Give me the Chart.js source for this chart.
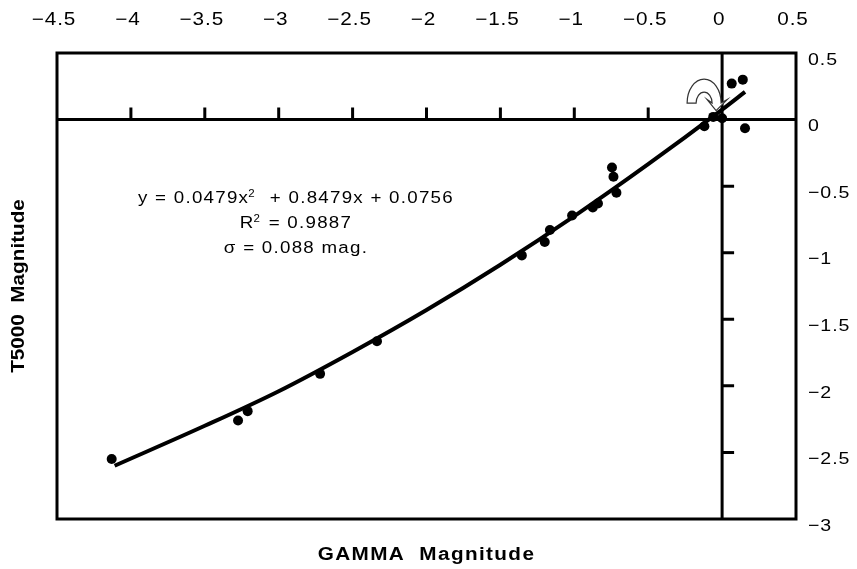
<!DOCTYPE html>
<html><head><meta charset="utf-8">
<script src="https://cdn.jsdelivr.net/npm/chart.js@4.4.1/dist/chart.umd.min.js"></script>
<style>html,body{margin:0;padding:0;background:#fff;}canvas{display:block;}</style>
</head><body>
<canvas id="c" width="857" height="569"></canvas>
<script>
// Observed stars: GAMMA magnitude (x) vs T5000 magnitude (y)
const gammaMag = [-4.13, -3.275, -3.21, -2.72, -2.335, -1.355, -1.2, -1.165, -1.015, -0.875, -0.84, -0.745, -0.735, -0.715, -0.12, -0.06, 0.0, 0.065, 0.14, 0.155];
const t5000Mag = [-2.55, -2.26, -2.19, -1.91, -1.665, -1.02, -0.92, -0.83, -0.72, -0.66, -0.63, -0.36, -0.43, -0.55, -0.05, 0.02, 0.01, 0.27, 0.30, -0.065];
// Fitted trend curve
const fitX = [-4.11, -3.5, -3.0, -2.5, -2.0, -1.5, -1.0, -0.5, 0.0, 0.155];
const fitY = [-2.60, -2.30, -2.04, -1.745, -1.43, -1.09, -0.725, -0.335, 0.075, 0.208];
// Tick labels
const xTickLabels = ['\u22124.5','\u22124','\u22123.5','\u22123','\u22122.5','\u22122','\u22121.5','\u22121','\u22120.5','0','0.5'];
const yTickLabels = ['\u22123','\u22122.5','\u22122','\u22121.5','\u22121','\u22120.5','0','0.5'];
const xTitle = 'GAMMA  Magnitude';
const yTitle = 'T5000  Magnitude';
const eqParts = ['y = 0.0479x', '2', '  + 0.8479x + 0.0756'];
const r2Parts = ['R', '2', ' = 0.9887'];
const sigmaText = '\u03C3 = 0.088 mag.';

const FONT = "'Liberation Sans', Arial, Helvetica, sans-serif";
const SX = 1.15; // the source lettering is slightly wide
(function () {
  const P = CanvasRenderingContext2D.prototype;
  const orig = P.fillText;
  P.fillText = function (t, x, y, mw) {
    this.save();
    this.translate(x, y);
    this.scale(SX, 1);
    if (mw === undefined) orig.call(this, t, 0, 0); else orig.call(this, t, 0, 0, mw / SX);
    this.restore();
  };
})();
Chart.defaults.color = '#000';
Chart.defaults.font.family = FONT;

const decor = {
  id: 'decor',
  beforeDraw(chart) { chart.ctx.letterSpacing = '0.8px'; },
  beforeDatasetsDraw(chart) {
    const {ctx, chartArea: a, scales: {x, y}} = chart;
    const x0 = x.getPixelForValue(0), y0 = y.getPixelForValue(0);
    ctx.save();
    ctx.strokeStyle = '#000';
    ctx.lineWidth = 3;
    ctx.lineCap = 'butt';
    ctx.beginPath();
    ctx.moveTo(a.left, y0); ctx.lineTo(a.right, y0);
    ctx.moveTo(x0, a.top); ctx.lineTo(x0, a.bottom);
    ctx.stroke();
    ctx.beginPath();
    x.ticks.forEach(t => {
      if (t.value < -0.01 && t.value > x.min + 0.01) {
        const px = x.getPixelForValue(t.value);
        ctx.moveTo(px, y0); ctx.lineTo(px, y0 - 12);
      }
    });
    y.ticks.forEach(t => {
      if (t.value < -0.01 && t.value > y.min + 0.01) {
        const py = y.getPixelForValue(t.value);
        ctx.moveTo(x0, py); ctx.lineTo(x0 + 12, py);
      }
    });
    ctx.stroke();
    // curved arrow pointing at the origin
    const cx = x0 - 18, cy = y0 - 16.5;
    ctx.beginPath();
    ctx.moveTo(cx - 17, cy);
    ctx.ellipse(cx, cy, 17, 24, 0, Math.PI, 2 * Math.PI);
    ctx.lineTo(x0 + 5, y0 - 20);
    ctx.lineTo(x0 - 6, y0 - 9);
    ctx.lineTo(x0 - 15, y0 - 20);
    ctx.lineTo(cx + 8, cy);
    ctx.ellipse(cx, cy, 8, 11, 0, 0, -Math.PI, true);
    ctx.closePath();
    ctx.fillStyle = '#fff';
    ctx.fill();
    ctx.lineWidth = 1.2;
    ctx.strokeStyle = '#333';
    ctx.stroke();
    ctx.restore();
  },
  afterDraw(chart) {
    const {ctx, chartArea: a} = chart;
    ctx.save();
    ctx.strokeStyle = '#000';
    ctx.lineWidth = 3;
    ctx.strokeRect(a.left, a.top, a.right - a.left, a.bottom - a.top);
    ctx.fillStyle = '#000';
    // axis titles
    ctx.font = 'bold 18px ' + FONT;
    ctx.letterSpacing = '1.2px';
    ctx.textAlign = 'center';
    ctx.textBaseline = 'middle';
    ctx.fillText(xTitle, (a.left + a.right) / 2, 555);
    ctx.save();
    ctx.translate(19, (a.top + a.bottom) / 2);
    ctx.rotate(-Math.PI / 2);
    ctx.font = 'bold 18px ' + FONT;
    ctx.letterSpacing = '0px';
    ctx.fillText(yTitle, 0, 0);
    ctx.restore();
    // equation block
    ctx.letterSpacing = '1.1px';
    ctx.textAlign = 'left';
    ctx.textBaseline = 'alphabetic';
    const big = '16.3px ' + FONT, small = '10px ' + FONT;
    const w = s => ctx.measureText(s).width * SX;
    function drawSup(parts, x, base) {
      ctx.font = big; ctx.fillText(parts[0], x, base);
      x += w(parts[0]);
      ctx.font = small; ctx.fillText(parts[1], x - 1, base - 6);
      x += w(parts[1]);
      ctx.font = big; ctx.fillText(parts[2], x, base);
    }
    function supWidth(parts) {
      ctx.font = big; let t = w(parts[0]) + w(parts[2]);
      ctx.font = small; t += w(parts[1]);
      return t;
    }
    drawSup(eqParts, 138, 203);
    const cxText = 296;
    drawSup(r2Parts, cxText - supWidth(r2Parts) / 2, 228);
    ctx.font = big;
    ctx.fillText(sigmaText, cxText - w(sigmaText) / 2, 253);
    ctx.restore();
  }
};

new Chart(document.getElementById('c'), {
  type: 'scatter',
  data: {
    datasets: [
      {
        label: 'fit',
        data: fitX.map((v, i) => ({x: v, y: fitY[i]})),
        showLine: true,
        borderColor: '#000',
        borderWidth: 4,
        pointRadius: 0,
        cubicInterpolationMode: 'monotone',
        fill: false
      },
      {
        label: 'stars',
        data: gammaMag.map((v, i) => ({x: v, y: t5000Mag[i]})),
        backgroundColor: '#000',
        borderColor: '#000',
        pointRadius: 5,
        borderWidth: 0
      }
    ]
  },
  options: {
    responsive: false,
    animation: false,
    events: [],
    layout: {padding: {left: 57, right: 0, top: 0, bottom: 50}},
    plugins: {legend: {display: false}, tooltip: {enabled: false}},
    scales: {
      x: {
        type: 'linear', position: 'top', min: -4.5, max: 0.5,
        grid: {display: false, drawTicks: false},
        border: {display: false},
        ticks: {
          stepSize: 0.5, padding: 22, labelOffset: -3, maxRotation: 0, autoSkip: false,
          font: {size: 18, family: FONT}, color: '#000',
          callback: (v, i) => xTickLabels[i]
        },
        afterFit: s => { s.height = 53; }
      },
      y: {
        type: 'linear', position: 'right', min: -3, max: 0.5,
        grid: {display: false, drawTicks: false},
        border: {display: false},
        ticks: {
          stepSize: 0.5, padding: 12, labelOffset: 7, autoSkip: false,
          font: {size: 17, family: FONT}, color: '#000',
          callback: (v, i) => yTickLabels[i]
        },
        afterFit: s => { s.width = 61; }
      }
    }
  },
  plugins: [decor]
});
</script>
</body></html>
